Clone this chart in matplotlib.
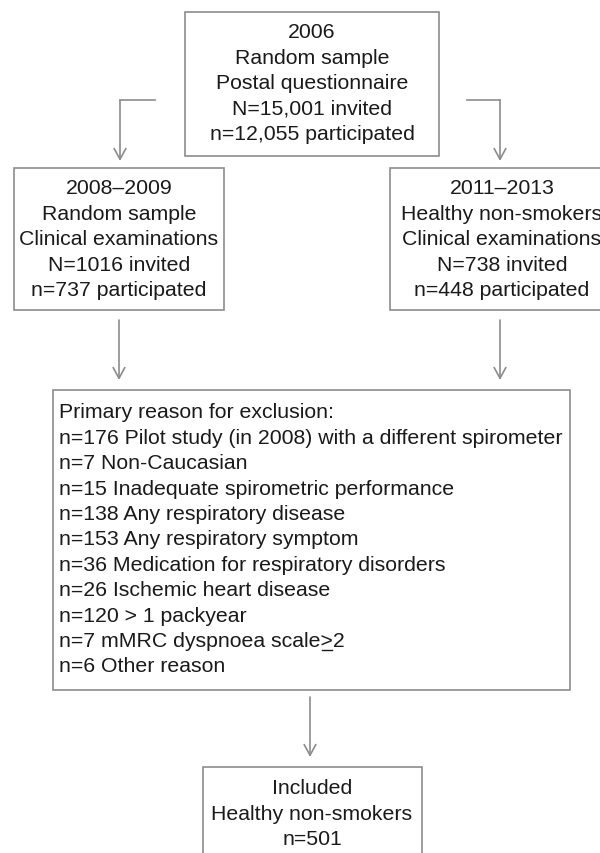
import matplotlib
matplotlib.use("Agg")
import matplotlib.pyplot as plt
from matplotlib.patches import Rectangle

plt.rcParams["font.family"] = ["Liberation Sans", "DejaVu Sans"]

# Flowchart text
top_lines = ["2006", "Random sample", "Postal questionnaire",
             "N=15,001 invited", "n=12,055 participated"]
left_lines = ["2008\u20132009", "Random sample", "Clinical examinations",
              "N=1016 invited", "n=737 participated"]
right_lines = ["2011\u20132013", "Healthy non-smokers", "Clinical examinations",
               "N=738 invited", "n=448 participated"]
exclusion_lines = [
    "Primary reason for exclusion:",
    "n=176 Pilot study (in 2008) with a different spirometer",
    "n=7 Non-Caucasian",
    "n=15 Inadequate spirometric performance",
    "n=138 Any respiratory disease",
    "n=153 Any respiratory symptom",
    "n=36 Medication for respiratory disorders",
    "n=26 Ischemic heart disease",
    "n=120 > 1 packyear",
    "n=7 mMRC dyspnoea scale>2",
    "n=6 Other reason",
]
included_lines = ["Included", "Healthy non-smokers", "n=501"]

EDGE = "#8c8c8c"
TXT = "#1a1a1a"
FS = 15.3
STEP = 25.4

fig = plt.figure(figsize=(6, 8.54), dpi=100)
ax = fig.add_axes([0, 0, 1, 1])
ax.set_xlim(0, 600)
ax.set_ylim(854, 0)
ax.axis("off")


def box(x0, y0, x1, y1):
    ax.add_patch(Rectangle((x0, y0), x1 - x0, y1 - y0, facecolor="white",
                           edgecolor=EDGE, lw=1.2))


def lines(items, x, y0, ha="center"):
    out = []
    for i, s in enumerate(items):
        out.append(ax.text(x, y0 + i * STEP, s, ha=ha, va="center",
                           fontsize=FS, color=TXT))
    return out


def arrow(x, y0, y1):
    ax.annotate("", xy=(x, y1), xytext=(x, y0),
                arrowprops=dict(arrowstyle="->,head_length=0.55,head_width=0.3",
                                color=EDGE, lw=1.2, shrinkA=0, shrinkB=0,
                                mutation_scale=14))


# boxes
box(185, 13, 439, 157)
box(14, 169, 224, 311)
box(390, 169, 614, 311)
box(53, 391, 570, 691)
box(203, 768, 422, 900)

lines(top_lines, 312, 33)
lines(left_lines, 119, 189)
lines(right_lines, 502, 189)
lines(exclusion_lines, 59, 413, ha="left")
lines(included_lines, 312, 789)

# underline under ">" in the mMRC line
fig.canvas.draw()
r = fig.canvas.get_renderer()
mm = exclusion_lines[9]
k = mm.index(">")
ta = ax.text(59, 0, mm[:k], fontsize=FS, alpha=0)
tb = ax.text(59, 0, mm[:k + 1], fontsize=FS, alpha=0)
xa = ta.get_window_extent(r).x1
xb = tb.get_window_extent(r).x1
yl = 413 + 9 * STEP + 9.5
ax.plot([xa + 1, xb - 1], [yl, yl], color=TXT, lw=1.0)

# connectors from the top box
ax.plot([155, 120], [101, 101], color=EDGE, lw=1.2)
arrow(120, 101, 162)
ax.plot([467, 500], [101, 101], color=EDGE, lw=1.2)
arrow(500, 101, 162)

arrow(119, 321, 381)
arrow(500, 321, 381)
arrow(310, 698, 758)

fig.savefig("out.png", dpi=100, facecolor="white")
